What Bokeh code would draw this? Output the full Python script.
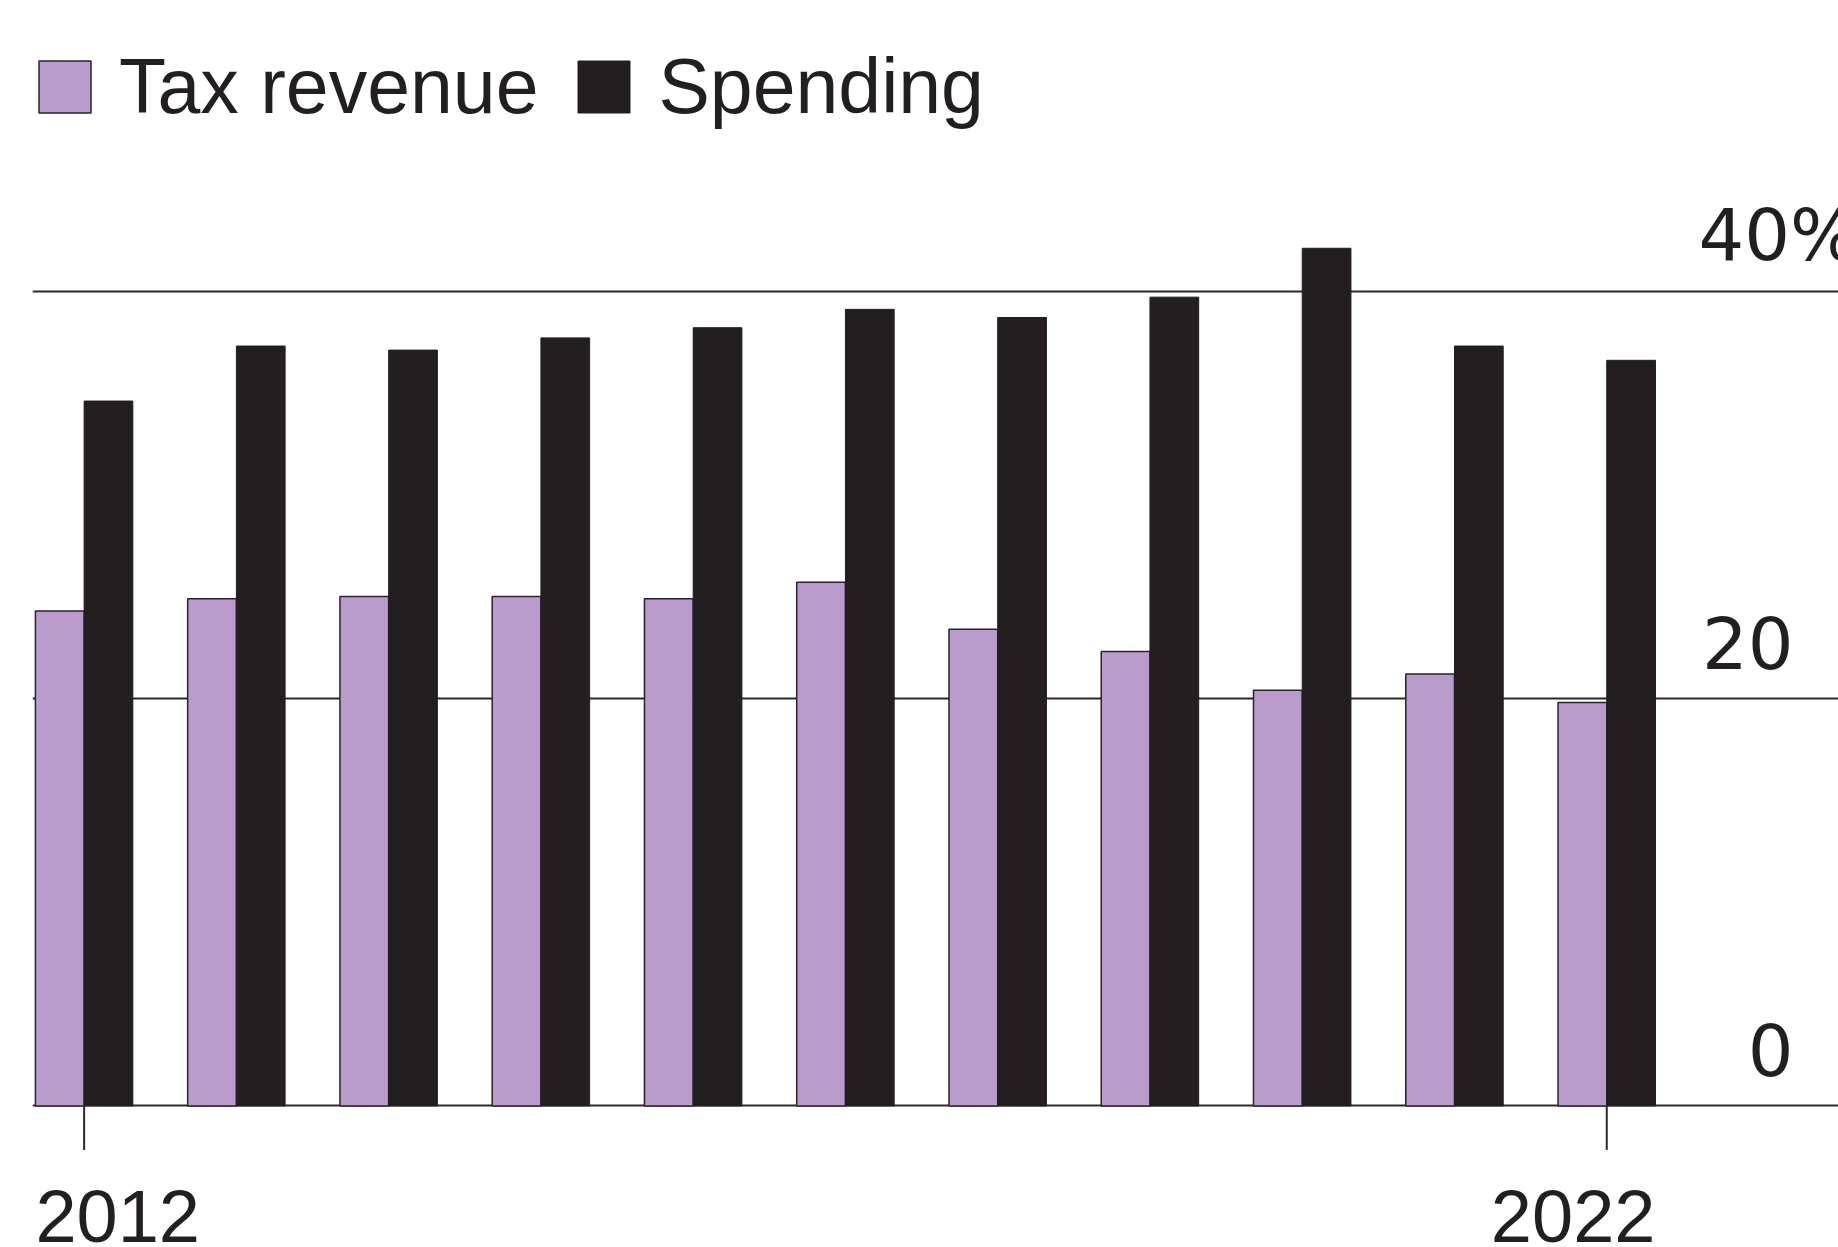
from bokeh.plotting import figure
from bokeh.models import (ColumnDataSource, FixedTicker, Legend, LegendItem,
                          Range1d, Grid)
from bokeh.transform import dodge
from bokeh.embed import file_html
from bokeh.resources import INLINE

# ---- data ----
years = [2012, 2013, 2014, 2015, 2016, 2017, 2018, 2019, 2020, 2021, 2022]
tax_revenue = [24.3, 24.9, 25.0, 25.0, 24.9, 25.7, 23.4, 22.3, 20.4, 21.2, 19.8]
spending = [34.6, 37.3, 37.1, 37.7, 38.2, 39.1, 38.7, 39.7, 42.1, 37.3, 36.6]
y_ticks = [0, 20, 40]
y_tick_labels = ["0", "20", "40%"]
x_tick_years = [2012, 2022]
x_tick_labels = ["2012", "2022"]
series_names = ["Tax revenue", "Spending"]

# ---- style ----
W, H = 1838, 1247
TOP, LEFT = 42, 32
TAX_COLOR = "#b99bcc"
SPEND_COLOR = "#231f20"
INK = "#231f20"
LINE = "#2a2a2a"
BW = 0.32
X0, X1 = 2011.661, 2023.522
Y0, Y1 = -6.95, 52.2
frame_h = H - TOP
px_per_unit = frame_h / (Y1 - Y0)
TICK_LEN = 44 / px_per_unit

p = figure(width=W, height=H, output_backend="svg", toolbar_location=None,
           x_range=Range1d(X0, X1), y_range=Range1d(Y0, Y1),
           x_axis_location=None, y_axis_location=None,
           min_border_left=LEFT, min_border_right=0,
           min_border_top=TOP, min_border_bottom=0)
p.outline_line_color = None
p.background_fill_color = "white"
p.border_fill_color = "white"

for g in p.grid:
    g.visible = False
p.add_layout(Grid(dimension=1, ticker=FixedTicker(ticks=y_ticks),
                  grid_line_color=LINE, grid_line_width=2))

src = ColumnDataSource(dict(year=years, tax=tax_revenue, spending=spending))
r_tax = p.vbar(x=dodge("year", -BW / 2, range=p.x_range), top="tax", bottom=0, width=BW,
               source=src, fill_color=TAX_COLOR, line_color="#2b2230", line_width=1.5)
r_sp = p.vbar(x=dodge("year", BW / 2, range=p.x_range), top="spending", bottom=0, width=BW,
              source=src, fill_color=SPEND_COLOR, line_color=SPEND_COLOR, line_width=1)

# x tick marks below the baseline
tick_src = ColumnDataSource(dict(x=x_tick_years, y0=[0] * len(x_tick_years),
                                 y1=[-TICK_LEN] * len(x_tick_years)))
p.segment(x0="x", y0="y0", x1="x", y1="y1", source=tick_src,
          line_color=LINE, line_width=2)

legend = Legend(items=[LegendItem(label=series_names[0], renderers=[r_tax]),
                       LegendItem(label=series_names[1], renderers=[r_sp])],
                orientation="horizontal", location="top_left",
                margin=0, padding=0, spacing=33, label_standoff=22,
                glyph_width=65, glyph_height=65,
                label_text_font="Liberation Sans", label_text_font_size="77px",
                label_text_color=INK,
                background_fill_alpha=0, border_line_alpha=0)
p.add_layout(legend)

# right-side value labels (inside the plot, above gridlines)
for v, t in zip(y_ticks, y_tick_labels):
    is_pct = t.endswith("%")
    p.text(x=[X1], y=[v], text=[t], text_align="right", text_baseline="alphabetic",
           x_offset=20 if is_pct else -45, y_offset=-56,
           text_font={"value": "DejaVu Sans"}, text_font_size="72px", text_color=INK)

# year labels below the ticks
for yr, t in zip(x_tick_years, x_tick_labels):
    first = yr == x_tick_years[0]
    p.text(x=[yr - BW if first else yr + BW], y=[0], text=[t],
           text_align="left" if first else "right", text_baseline="alphabetic",
           y_offset=111,
           text_font={"value": "Liberation Sans"}, text_font_size="74px", text_color=INK)

open("out.html", "w").write(file_html(p, INLINE))
